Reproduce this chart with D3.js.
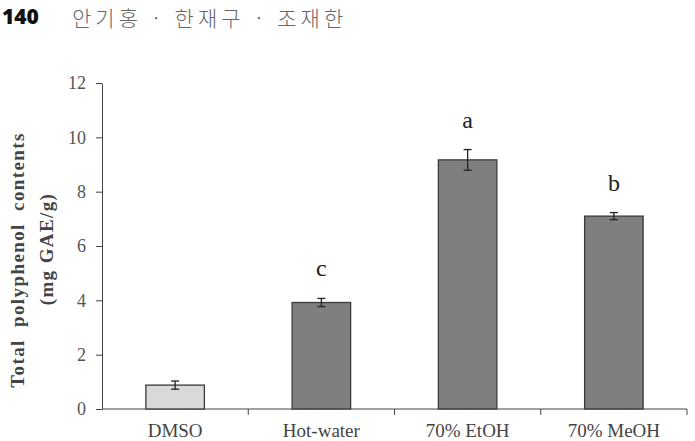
<!DOCTYPE html>
<html>
<head>
<meta charset="utf-8">
<script src="https://cdn.jsdelivr.net/npm/d3@7"></script>
<style>
  body { margin: 0; background: #fff; }
  svg text { font-family: 'Liberation Serif', 'Times New Roman', serif; }
</style>
</head>
<body>
<svg id="chart" width="695" height="441"></svg>
<script>
// data
const categories = ['DMSO', 'Hot-water', '70% EtOH', '70% MeOH']
const values = [0.88, 3.92, 9.17, 7.10]
const errors = [0.15, 0.15, 0.38, 0.13]
const letters = ['', 'c', 'a', 'b']
const yTicks = [0, 2, 4, 6, 8, 10, 12]
const fills = ['#d9d9d9', '#7f7f7f', '#7f7f7f', '#7f7f7f']

const svg = d3.select('#chart')

// page header
svg.append('text')
  .attr('x', 2).attr('y', 24)
  .style('font-family', "'Open Sans', sans-serif")
  .style('font-weight', 800)
  .style('font-size', '21px')
  .attr('fill', '#111')
  .text('140')
svg.append('text')
  .attr('x', 72).attr('y', 26)
  .style('font-family', "'Noto Sans CJK KR', sans-serif")
  .style('font-weight', 300)
  .style('font-size', '21px')
  .style('letter-spacing', '4px')
  .attr('fill', '#666')
  .attr('xml:space', 'preserve')
  .text('안기홍 · 한재구 · 조재한')

const x = d3.scaleBand().domain(categories).range([102, 687]).padding(0)
const y = d3.scaleLinear().domain([0, 12]).range([409, 83])
const barW = x.bandwidth() * 0.4

// y axis
const yAxis = svg.append('g')
  .attr('transform', 'translate(102,0)')
  .call(d3.axisLeft(y).tickValues(yTicks).tickSize(6).tickPadding(10).tickSizeOuter(0))
yAxis.attr('font-family', null)
yAxis.select('.domain').attr('stroke', '#444')
yAxis.selectAll('.tick line').attr('stroke', '#444')
yAxis.selectAll('.tick text')
  .style('font-size', '18px')
  .attr('fill', '#555')

// x axis with ticks at band boundaries
const xAxis = svg.append('g').attr('transform', 'translate(0,409)')
xAxis.append('line')
  .attr('x1', 102).attr('x2', 687)
  .attr('stroke', '#444')
xAxis.selectAll('line.bt')
  .data(categories)
  .join('line')
  .attr('class', 'bt')
  .attr('x1', d => x(d) + x.bandwidth())
  .attr('x2', d => x(d) + x.bandwidth())
  .attr('y1', 0).attr('y2', 6)
  .attr('stroke', '#444')
xAxis.selectAll('text')
  .data(categories)
  .join('text')
  .attr('x', d => x(d) + x.bandwidth() / 2)
  .attr('y', 28)
  .attr('text-anchor', 'middle')
  .style('font-size', '19px')
  .attr('fill', '#444')
  .text(d => d)

// bars
svg.append('g').selectAll('rect')
  .data(categories)
  .join('rect')
  .attr('x', d => x(d) + x.bandwidth() / 2 - barW / 2)
  .attr('width', barW)
  .attr('y', (d, i) => y(values[i]))
  .attr('height', (d, i) => y(0) - y(values[i]))
  .attr('fill', (d, i) => fills[i])
  .attr('stroke', '#3a3a3a')
  .attr('stroke-width', 1.3)

// error bars
const eb = svg.append('g').attr('stroke', '#222').attr('stroke-width', 1.3)
categories.forEach((c, i) => {
  const cx = x(c) + x.bandwidth() / 2
  const top = y(values[i] + errors[i])
  const bot = y(values[i] - errors[i])
  eb.append('line').attr('x1', cx).attr('x2', cx).attr('y1', top).attr('y2', bot)
  eb.append('line').attr('x1', cx - 4).attr('x2', cx + 4).attr('y1', top).attr('y2', top)
  eb.append('line').attr('x1', cx - 4).attr('x2', cx + 4).attr('y1', bot).attr('y2', bot)
})

// significance letters
svg.append('g').selectAll('text')
  .data(categories)
  .join('text')
  .attr('x', d => x(d) + x.bandwidth() / 2)
  .attr('y', (d, i) => y(values[i] + errors[i]) - 22)
  .attr('text-anchor', 'middle')
  .style('font-size', '24px')
  .attr('fill', '#222')
  .text((d, i) => letters[i])

// y axis title
const yt = svg.append('text')
  .attr('transform', 'rotate(-90)')
  .attr('text-anchor', 'middle')
  .style('font-size', '19px')
  .style('font-weight', 700)
  .style('letter-spacing', '1.4px')
  .attr('fill', '#444')
  .attr('xml:space', 'preserve')
yt.append('tspan').attr('x', -260).attr('y', 24).text('Total  polyphenol  contents')
yt.append('tspan').attr('x', -249).attr('y', 53).text('(mg GAE/g)')
</script>
</body>
</html>
